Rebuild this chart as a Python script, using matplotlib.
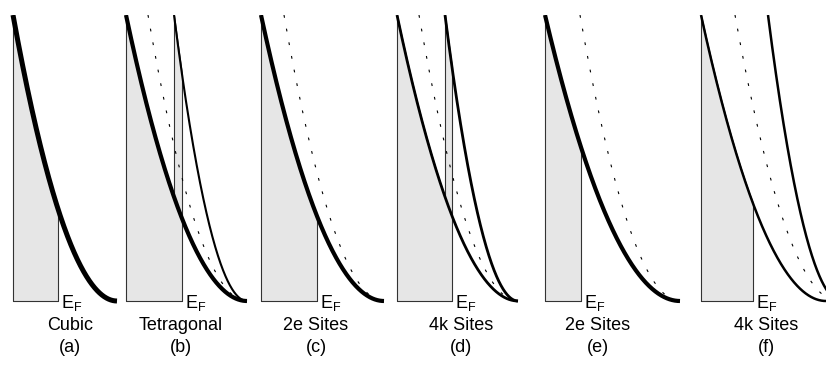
import matplotlib
matplotlib.use("Agg")
import numpy as np
import matplotlib.pyplot as plt

# ---------------- data (energies in arbitrary units, DOS normalised) ----------------
captions = ["Cubic", "Tetragonal", "2e Sites", "4k Sites", "2e Sites", "4k Sites"]
panel_labels = ["(a)", "(b)", "(c)", "(d)", "(e)", "(f)"]
band1_end = [1.04, 1.21, 1.23, 1.21, 1.35, 1.25]
fermi_level = [0.45, 0.56, 0.56, 0.55, 0.36, 0.52]
band2_start = [None, 0.48, None, 0.48, None, 0.67]
band2_end = [None, 1.21, None, 1.21, None, 1.40]
ref_start = [None, 0.22, 0.23, 0.22, 0.35, 0.34]
ref_end = [None, 1.21, 1.23, 1.21, 1.35, 1.37]

# ---------------- layout / style ----------------
W, H, DPI = 826, 365, 100
panel_left_px = [13, 126, 261, 397, 545, 701]
caption_dx = [0.57, 0.55, 0.55, 0.64, 0.53, 0.65]
band1_lw = [3.6, 3.0, 3.0, 2.0, 3.0, 1.8]
band2_lw = [0, 1.5, 0, 2.0, 0, 1.8]
PX_PER_UNIT_X = 100.0
PX_PER_UNIT_Y = 286.0
Y0_PX = 301.0          # pixel row of DOS = 0
XMIN, XMAX = -0.1, 1.5
YMIN, YMAX = -0.06, 1.0
FILL = "#e6e6e6"
EDGE = "#333333"

plt.rcParams["font.family"] = ["Liberation Sans", "DejaVu Sans"]
plt.rcParams["mathtext.fontset"] = "custom"
plt.rcParams["mathtext.rm"] = "Liberation Sans"
plt.rcParams["mathtext.it"] = "Liberation Sans"

fig = plt.figure(figsize=(W / DPI, H / DPI), dpi=DPI)


def dos(x, start, end):
    return ((end - x) / (end - start)) ** 2


for i in range(6):
    left_px = panel_left_px[i] + XMIN * PX_PER_UNIT_X
    width_px = (XMAX - XMIN) * PX_PER_UNIT_X
    bottom_px = Y0_PX - YMIN * PX_PER_UNIT_Y
    height_px = (YMAX - YMIN) * PX_PER_UNIT_Y
    ax = fig.add_axes([left_px / W, (H - bottom_px) / H, width_px / W, height_px / H])
    ax.set_xlim(XMIN, XMAX)
    ax.set_ylim(YMIN, YMAX)
    ax.axis("off")
    ax.patch.set_alpha(0)

    e1 = band1_end[i]
    ef = fermi_level[i]
    s2 = band2_start[i]

    # occupied states (shaded)
    if s2 is not None and s2 < ef:
        xa = np.linspace(0, s2, 200)
        ya = dos(xa, 0, e1)
        xb = np.linspace(s2, ef, 100)
        yb = np.maximum(dos(xb, 0, e1), dos(xb, s2, band2_end[i]))
        xf = np.concatenate([xa, xb])
        yf = np.concatenate([ya, yb])
    else:
        xf = np.linspace(0, ef, 300)
        yf = dos(xf, 0, e1)
    ax.fill_between(xf, 0, yf, facecolor=FILL, edgecolor=EDGE, lw=0.8, zorder=1)

    # reference (dotted) band
    if ref_start[i] is not None:
        xr = np.linspace(ref_start[i], ref_end[i], 300)
        ax.plot(xr, dos(xr, ref_start[i], ref_end[i]), color="k", lw=0.8,
                linestyle=(0, (2.5, 10)), zorder=2)

    # second band
    if s2 is not None:
        x2 = np.linspace(s2, band2_end[i], 300)
        ax.plot(x2, dos(x2, s2, band2_end[i]), color="k", lw=band2_lw[i],
                solid_capstyle="butt", zorder=3)

    # main band
    x1 = np.linspace(0, e1, 400)
    ax.plot(x1, dos(x1, 0, e1), color="k", lw=band1_lw[i],
            solid_capstyle="butt", zorder=4)

    # labels
    ax.text(ef + 0.03, (Y0_PX - 308) / PX_PER_UNIT_Y, r"$\mathrm{E_F}$",
            fontsize=13, ha="left", va="baseline")
    ax.text(caption_dx[i], (Y0_PX - 326) / PX_PER_UNIT_Y, captions[i],
            fontsize=13, ha="center", va="center")
    ax.text(caption_dx[i], (Y0_PX - 348) / PX_PER_UNIT_Y, panel_labels[i],
            fontsize=13, ha="center", va="center")

fig.savefig("out.png", dpi=DPI)
